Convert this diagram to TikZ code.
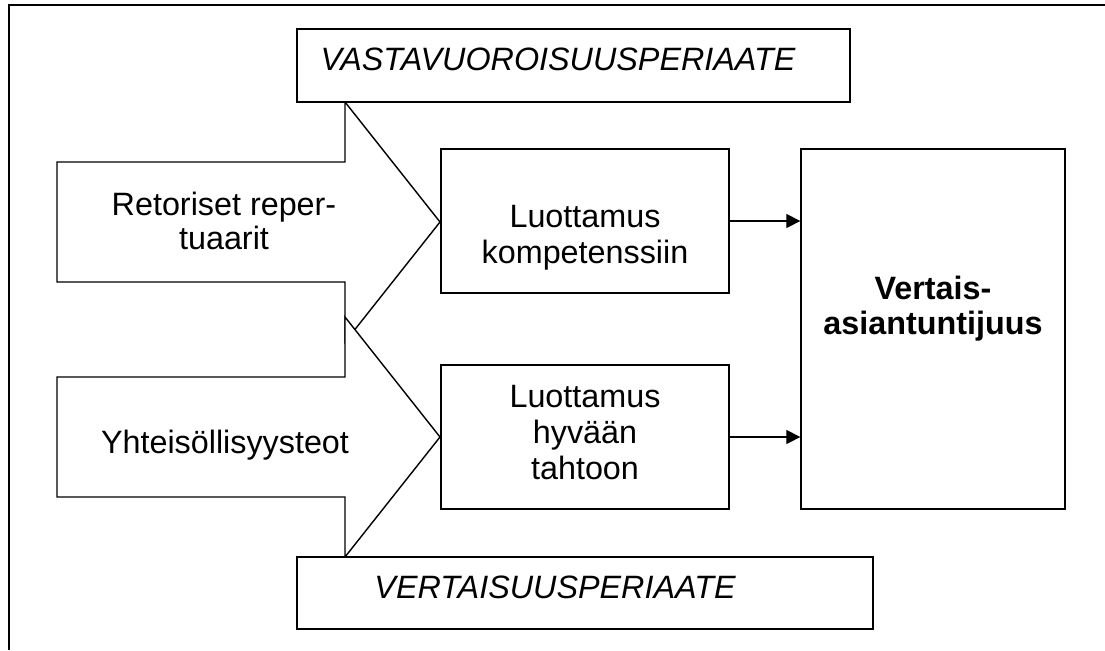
\documentclass[tikz,border=0pt]{standalone}
\usepackage{fontspec}
\setmainfont{Liberation Sans}
\usepackage{tikz}
\usetikzlibrary{positioning,arrows.meta}
\tikzset{box/.style={draw,line width=0.8pt,fill=white,inner sep=0pt}}
\tikzset{txt/.style={align=center,inner sep=0pt,font=\fontsize{18.4}{20.4}\selectfont}}
\tikzset{flow/.style={draw,line width=0.8pt,fill=white,line join=miter}}
\tikzset{conn/.style={-{Triangle[length=8pt,width=8pt]},line width=0.8pt}}

\begin{document}
\begin{tikzpicture}[x=0.02cm,y=-0.02cm]
  \useasboundingbox (0,0) rectangle (1105,650);
  \draw[line width=1pt] (9,650) -- (9,5) -- (1105,5);
  % the two big arrows
      \foreach \c in {222,437}
        \draw[flow] (57,\c-60) -- (345,\c-60) -- (345,\c-120) -- (440,\c)
        -- (345,\c+120) -- (345,\c+60) -- (57,\c+60) -- cycle;
  \node[box, minimum width=11.06cm, minimum height=1.46cm] (vast) at (573.5,65.5) {};
  \node[box, minimum width=11.52cm, minimum height=1.44cm] (vert) at (585,593) {};
  \node[box, minimum width=5.76cm, minimum height=2.88cm] (komp) at (585,221) {};
  \node[box, minimum width=5.76cm, minimum height=2.88cm] (hyva) at (585,437) {};
  \node[box, minimum width=5.28cm, minimum height=7.2cm] (vasi) at (933,329) {};
  % texts (base = last line)
  \node[txt, anchor=base] (vastT) at (558,70) {\itshape VASTAVUOROISUUSPERIAATE};
  \node[txt, anchor=base] (vertT) at (555,598) {\itshape VERTAISUUSPERIAATE};
  \node[txt, anchor=base, font=\fontsize{18.4}{18.8}\selectfont] (retT) at (224,249) {Retoriset reper-\\tuaarit};
  \node[txt, anchor=base] (yhtT) at (225,453) {Yhteisöllisyysteot};
  \node[txt, anchor=base] (kompT) at (585,263) {Luottamus\\kompetenssiin};
  \node[txt, anchor=base] (hyvaT) at (585,479) {Luottamus\\hyvään\\tahtoon};
  \node[txt, anchor=base, font=\fontsize{18.4}{19.4}\selectfont\bfseries] (vasiT) at (933,334) {Vertais-\\asiantuntijuus};
  % connectors
  \draw[conn] (komp.east) -- (vasi.west |- komp.east);
  \draw[conn] (hyva.east) -- (vasi.west |- hyva.east);
\end{tikzpicture}
\end{document}
